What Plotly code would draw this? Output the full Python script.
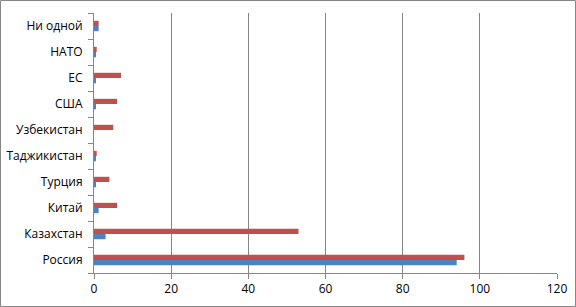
import plotly.graph_objects as go

categories = ["Россия", "Казахстан", "Китай", "Турция", "Таджикистан",
              "Узбекистан", "США", "ЕС", "НАТО", "Ни одной"]
series_blue = [94, 3, 1.2, 0.4, 0.4, 0, 0.4, 0.4, 0.5, 1.2]
series_red = [96, 53, 6, 4, 0.7, 5, 6, 7, 0.7, 1.2]

W, H = 576, 307
L, R, T, B = 94, 19, 13, 34
pw, ph = W - L - R, H - T - B

fig = go.Figure()
fig.add_trace(go.Bar(y=categories, x=series_blue, orientation="h",
                     marker=dict(color="#4F81BD", line=dict(width=0)), name="1"))
fig.add_trace(go.Bar(y=categories, x=series_red, orientation="h",
                     marker=dict(color="#C0504D", line=dict(width=0)), name="2"))

grid = "#868686"
fig.update_layout(
    width=W, height=H,
    margin=dict(l=L, r=R, t=T, b=B),
    barmode="group", bargap=0.6, bargroupgap=0,
    plot_bgcolor="white", paper_bgcolor="white",
    showlegend=False,
    font=dict(family="Open Sans, sans-serif", size=12, color="black"),
    xaxis=dict(range=[0, 120], dtick=20, showgrid=True, gridcolor=grid, gridwidth=1,
               showline=True, linecolor=grid, linewidth=1, ticks="outside",
               ticklen=5, tickcolor=grid, zeroline=False, fixedrange=True,
               automargin=False),
    yaxis=dict(type="category", showline=True, linecolor=grid, linewidth=1,
               ticks="outside", ticklen=5, tickcolor=grid, tickson="boundaries",
               showgrid=False, ticklabelstandoff=8, fixedrange=True,
               automargin=False),
    shapes=[dict(type="rect", xref="paper", yref="paper",
                 x0=(0.5 - L) / pw, x1=(W - 0.5 - L) / pw,
                 y0=(T + ph - (H - 0.5)) / ph, y1=(T + ph - 0.5) / ph,
                 line=dict(color=grid, width=1), layer="below")],
)
fig.write_html("out.html")
